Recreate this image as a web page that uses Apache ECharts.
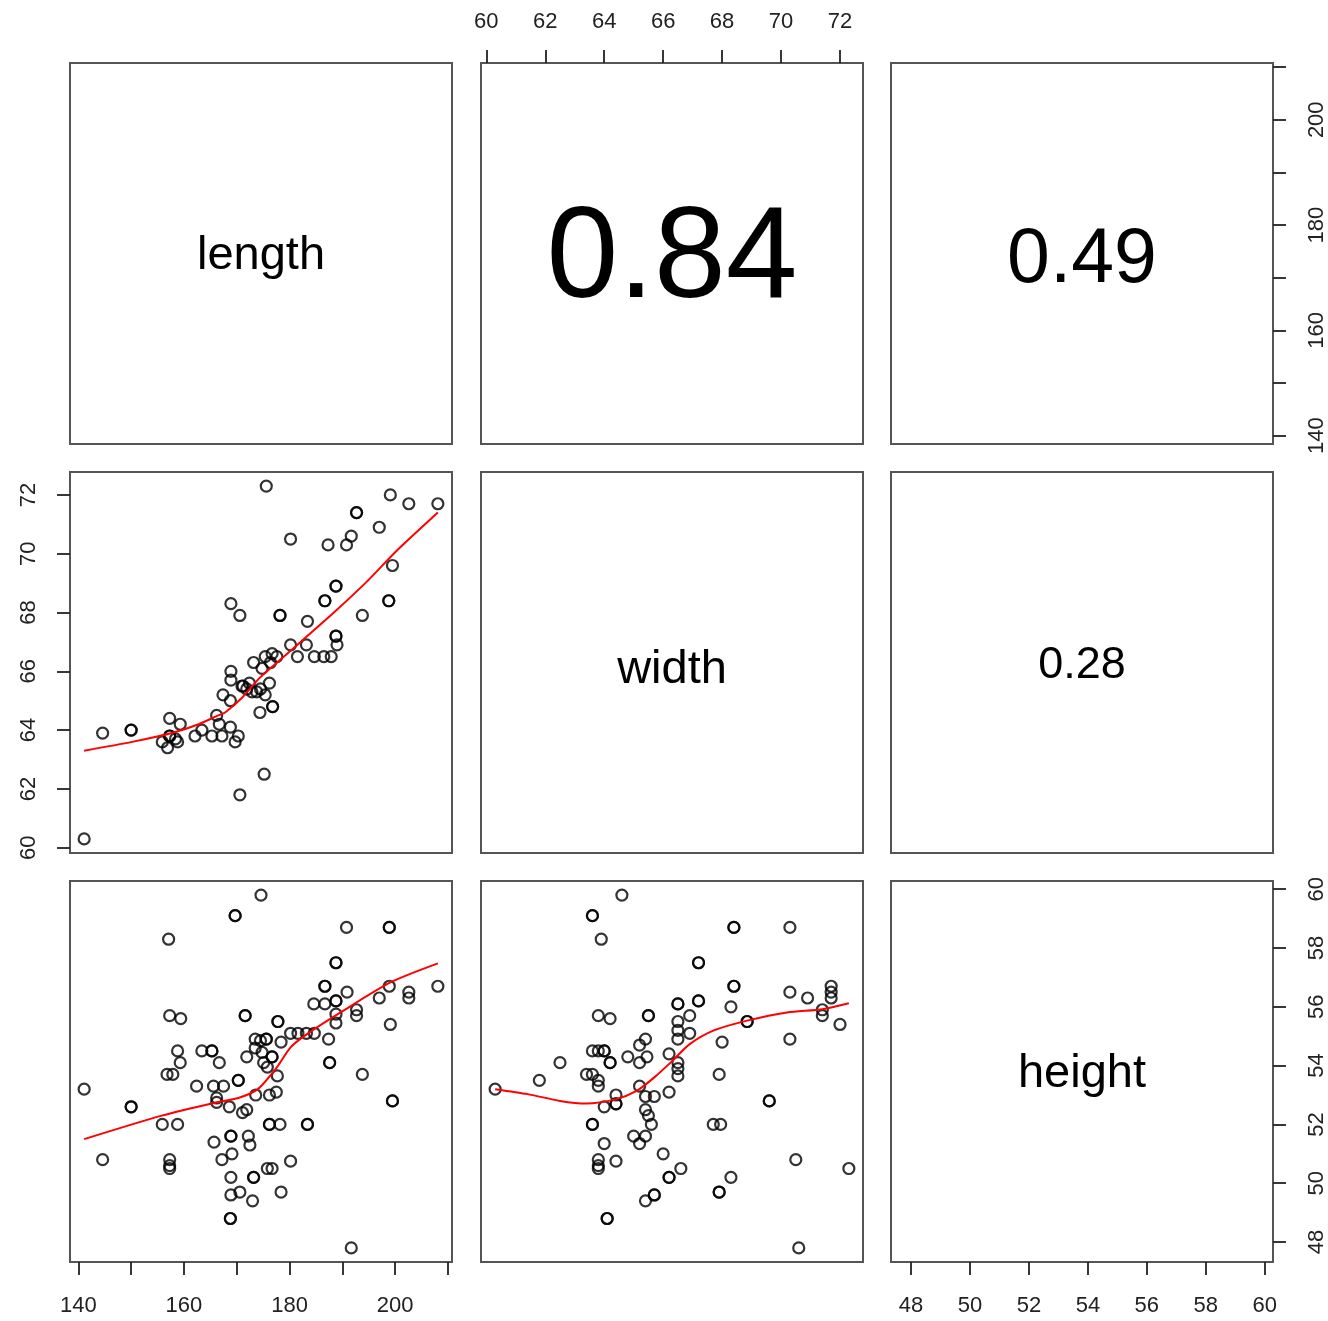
<!DOCTYPE html>
<html>
<head>
<meta charset="utf-8">
<script src="https://cdn.jsdelivr.net/npm/echarts@6/dist/echarts.min.js"></script>
<style>
  html, body { margin: 0; padding: 0; background: #fff; }
  #chart { width: 1328px; height: 1321px; }
</style>
</head>
<body>
<div id="chart"></div>
<script>
// variable names on the diagonal
const varNames = ['length', 'width', 'height']
// correlations for the upper panels: (length,width), (length,height), (width,height)
const corrValues = ['0.84', '0.49', '0.28']

// tick marks and labels for each variable
const tickValues = [
  [140, 150, 160, 170, 180, 190, 200, 210],
  [60, 62, 64, 66, 68, 70, 72],
  [48, 50, 52, 54, 56, 58, 60]
]
const tickLabels = [
  [140, 160, 180, 200],
  [60, 62, 64, 66, 68, 70, 72],
  [48, 50, 52, 54, 56, 58, 60]
]

// length vs width
const lengthWidth = [
  [141.1, 60.3], [144.6, 63.9], [150.0, 64.0], [150.0, 64.0], [157.3, 64.4], [159.3, 64.2],
  [155.9, 63.6], [156.9, 63.4], [157.3, 63.8], [158.8, 63.6], [158.4, 63.7], [157.3, 63.8],
  [162.1, 63.8], [163.4, 64.0], [165.3, 63.8], [166.2, 64.5], [166.7, 64.2], [167.2, 63.8],
  [168.8, 64.1], [169.7, 63.6], [170.3, 63.8], [167.4, 65.2], [168.8, 65.0], [168.9, 66.0],
  [168.9, 65.7], [171.0, 65.5], [171.2, 65.5], [171.9, 65.4], [172.9, 65.3], [168.9, 68.3],
  [170.6, 67.9], [170.6, 61.8], [173.2, 66.3], [174.4, 64.6], [175.2, 62.5], [175.6, 72.3],
  [199.1, 72.0], [202.6, 71.7], [208.1, 71.7], [192.7, 71.4], [192.7, 71.4], [197.0, 70.9],
  [191.7, 70.6], [190.8, 70.3], [187.3, 70.3], [180.2, 70.5], [199.5, 69.6], [188.8, 68.9],
  [188.8, 68.9], [186.7, 68.4], [186.7, 68.4], [198.8, 68.4], [198.8, 68.4], [193.8, 67.9],
  [178.2, 67.9], [178.2, 67.9], [183.4, 67.7], [188.8, 67.2], [188.8, 67.2], [189.0, 66.9],
  [180.2, 66.9], [183.2, 66.9], [181.5, 66.5], [184.7, 66.5], [186.5, 66.5], [187.9, 66.5],
  [175.4, 66.5], [176.7, 66.6], [177.6, 66.5], [174.8, 66.1], [176.4, 66.3], [176.2, 65.6],
  [174.5, 65.4], [175.4, 65.2], [176.8, 64.8], [176.8, 64.8], [172.4, 65.6], [173.8, 65.3]
]

// length vs height
const lengthHeight = [
  [141.1, 53.2], [144.6, 50.8], [150.0, 52.6], [150.0, 52.6], [155.9, 52.0], [158.8, 52.0],
  [157.3, 50.8], [157.3, 50.6], [157.3, 50.5], [157.1, 58.3], [157.3, 55.7], [159.4, 55.6],
  [158.8, 54.5], [159.3, 54.1], [156.8, 53.7], [157.9, 53.7], [162.4, 53.3], [163.4, 54.5],
  [165.3, 54.5], [165.3, 54.5], [166.7, 54.1], [165.6, 53.3], [167.5, 53.3], [166.2, 52.9],
  [166.2, 52.75], [168.6, 52.6], [170.3, 53.5], [170.3, 53.5], [171.9, 54.3], [171.9, 52.5],
  [171.1, 52.4], [169.7, 59.1], [169.7, 59.1], [171.6, 55.7], [171.6, 55.7], [173.5, 54.9],
  [173.5, 54.6], [173.6, 53.0], [174.6, 59.8], [165.7, 51.4], [167.2, 50.8], [169.1, 51.0],
  [168.9, 51.6], [168.9, 51.6], [172.2, 51.6], [172.5, 51.3], [168.9, 50.2], [168.9, 49.6],
  [170.6, 49.7], [173.2, 50.2], [173.2, 50.2], [173.0, 49.4], [168.8, 48.8], [168.8, 48.8],
  [190.8, 58.7], [198.9, 58.7], [198.9, 58.7], [188.8, 57.5], [188.8, 57.5], [186.7, 56.7],
  [186.7, 56.7], [190.9, 56.5], [198.9, 56.7], [202.6, 56.5], [202.6, 56.3], [208.1, 56.7],
  [197.0, 56.3], [188.8, 56.2], [188.8, 56.2], [184.6, 56.1], [186.7, 56.1], [192.7, 55.9],
  [192.7, 55.7], [188.8, 55.75], [188.8, 55.45], [199.1, 55.4], [177.8, 55.5], [177.8, 55.5],
  [180.2, 55.1], [181.6, 55.1], [183.2, 55.1], [184.7, 55.1], [175.6, 54.9], [175.6, 54.9],
  [178.4, 54.8], [187.4, 54.9], [174.5, 54.85], [174.8, 54.45], [176.7, 54.3], [176.7, 54.3],
  [175.1, 54.1], [175.8, 53.95], [177.7, 53.65], [187.6, 54.1], [187.6, 54.1], [193.8, 53.7],
  [199.5, 52.8], [199.5, 52.8], [176.2, 53.0], [177.5, 53.1], [176.2, 52.0], [176.2, 52.0],
  [178.2, 52.0], [183.4, 52.0], [183.4, 52.0], [180.2, 50.75], [175.8, 50.5], [176.7, 50.5],
  [178.4, 49.7], [191.7, 47.8]
]

// width vs height
const widthHeight = [
  [60.3, 53.2], [61.8, 53.5], [62.5, 54.1], [64.6, 59.8], [63.6, 59.1], [63.6, 59.1],
  [63.9, 58.3], [63.8, 55.7], [64.2, 55.6], [65.5, 55.7], [65.5, 55.7], [63.6, 54.5],
  [63.8, 54.5], [64.0, 54.5], [64.0, 54.5], [64.2, 54.1], [64.2, 54.1], [64.8, 54.3],
  [65.2, 54.7], [65.4, 54.9], [65.2, 54.1], [65.45, 54.3], [63.4, 53.7], [63.6, 53.7],
  [63.8, 53.5], [63.8, 53.3], [64.4, 53.0], [64.4, 52.7], [64.4, 52.7], [64.0, 52.6],
  [65.2, 53.3], [65.4, 52.95], [65.7, 52.95], [65.4, 52.5], [65.5, 52.3], [65.6, 52.0],
  [63.6, 52.0], [63.6, 52.0], [65.0, 51.6], [65.4, 51.6], [65.2, 51.35], [64.0, 51.35],
  [63.8, 50.8], [63.8, 50.6], [63.8, 50.5], [64.4, 50.75], [66.0, 51.0], [66.2, 50.2],
  [66.2, 50.2], [65.4, 49.4], [65.7, 49.6], [65.7, 49.6], [64.1, 48.8], [64.1, 48.8],
  [66.2, 53.1], [68.4, 58.7], [68.4, 58.7], [70.3, 58.7], [67.2, 57.5], [67.2, 57.5],
  [68.4, 56.7], [68.4, 56.7], [71.7, 56.7], [71.7, 56.5], [71.7, 56.3], [70.3, 56.5],
  [70.9, 56.3], [66.5, 56.1], [66.5, 56.1], [67.2, 56.2], [67.2, 56.2], [68.3, 56.0],
  [66.9, 55.7], [66.5, 55.5], [66.5, 55.2], [66.5, 54.9], [66.9, 55.1], [68.85, 55.5],
  [68.85, 55.5], [71.4, 55.9], [71.4, 55.7], [72.0, 55.4], [68.0, 54.8], [70.3, 54.9],
  [66.2, 54.4], [66.5, 54.1], [66.5, 53.9], [66.5, 53.65], [67.9, 53.7], [69.6, 52.8],
  [69.6, 52.8], [67.7, 52.0], [67.95, 52.0], [66.6, 50.5], [68.3, 50.2], [67.9, 49.7],
  [67.9, 49.7], [70.5, 50.8], [72.3, 50.5], [70.6, 47.8]
]

// smoother curves
const smoothLW = [
  [141.1, 63.3], [150.2, 63.6], [157.7, 63.9], [162.8, 64.2], [166.5, 64.5], [167.8, 64.6],
  [171.0, 65.1], [174.2, 65.75], [177.0, 66.2], [182.1, 67.0], [188.4, 68.0], [194.7, 69.06],
  [200.3, 70.1], [208.1, 71.4]
]
const smoothLH = [
  [141.1, 51.5], [155.8, 52.3], [165.9, 52.74], [170.3, 52.9], [174.0, 53.2], [177.6, 53.94],
  [180.2, 54.62], [183.3, 55.07], [189.6, 55.8], [199.1, 56.83], [208.1, 57.48]
]
const smoothWH = [
  [60.3, 53.2], [61.4, 53.03], [62.5, 52.8], [63.4, 52.71], [64.4, 52.86], [65.1, 53.14],
  [65.7, 53.6], [66.3, 54.15], [66.9, 54.73], [67.7, 55.19], [68.85, 55.53], [70.2, 55.81],
  [71.4, 55.92], [72.3, 56.12]
]

// layout
const axisRanges = [[138.42, 210.78], [59.82, 72.78], [47.32, 60.28]]
const lefts = [70, 481, 891]
const tops = [63, 472, 881]
const panelW = 382
const panelH = 381
const font = 'Liberation Sans, Arial, sans-serif'
const nameShift = [3, 8, 3]
const corrSizes = [129, 77, 45]
const corrShift = [8, 7, 3]

let grids = []
let xAxes = []
let yAxes = []
for (let i = 0; i < 9; i++) {
  let r = Math.floor(i / 3)
  let c = i % 3
  grids.push({
    left: lefts[c], top: tops[r], width: panelW, height: panelH,
    show: true, borderColor: '#555', borderWidth: 2, backgroundColor: 'transparent'
  })
  let showX = (c === 1 && r === 0) || (c !== 1 && r === 2)
  let showY = (r === 1 && c === 0) || (r !== 1 && c === 2)
  xAxes.push({
    type: 'value', gridIndex: i,
    min: axisRanges[c][0], max: axisRanges[c][1],
    position: c === 1 ? 'top' : 'bottom',
    axisLine: { show: false },
    axisTick: { show: showX, length: 13, lineStyle: { color: '#222', width: 1.8 }, customValues: tickValues[c] },
    axisLabel: {
      show: showX, customValues: tickLabels[c], fontSize: 22, color: '#222',
      fontFamily: font, margin: c === 1 ? 30 : 33
    },
    splitLine: { show: false }
  })
  yAxes.push({
    type: 'value', gridIndex: i,
    min: axisRanges[r][0], max: axisRanges[r][1],
    position: r === 1 ? 'left' : 'right',
    axisLine: { show: false },
    axisTick: { show: showY, length: 13, lineStyle: { color: '#222', width: 1.8 }, customValues: tickValues[r] },
    axisLabel: {
      show: showY, customValues: tickLabels[r], fontSize: 22, color: '#222',
      fontFamily: font, rotate: 90, margin: r === 1 ? 30 : 33
    },
    splitLine: { show: false }
  })
}

function scatterSeries (idx, data) {
  return {
    type: 'scatter', xAxisIndex: idx, yAxisIndex: idx, data: data,
    symbol: 'circle', symbolSize: 11,
    itemStyle: { color: 'rgba(0,0,0,0)', borderColor: '#000', borderWidth: 2.2 },
    emphasis: { disabled: true }, silent: true
  }
}
function lineSeries (idx, data) {
  return {
    type: 'line', xAxisIndex: idx, yAxisIndex: idx, data: data,
    showSymbol: false, smooth: 0.25,
    lineStyle: { color: '#ff0000', width: 2 }, silent: true
  }
}

// panel texts
let texts = []
for (let k = 0; k < 3; k++) {
  texts.push({
    type: 'text', x: lefts[k] + panelW / 2, y: tops[k] + panelH / 2 + nameShift[k],
    style: { text: varNames[k], fontSize: 47, fontFamily: font, fill: '#000', align: 'center', verticalAlign: 'middle' }
  })
}
const corrCells = [[0, 1], [0, 2], [1, 2]]
corrCells.forEach((cell, k) => {
  texts.push({
    type: 'text', x: lefts[cell[1]] + panelW / 2, y: tops[cell[0]] + panelH / 2 + corrShift[k],
    style: { text: corrValues[k], fontSize: corrSizes[k], fontFamily: font, fill: '#000', align: 'center', verticalAlign: 'middle' }
  })
})

let chart = echarts.init(document.getElementById('chart'))
chart.setOption({
  animation: false,
  backgroundColor: '#fff',
  grid: grids,
  xAxis: xAxes,
  yAxis: yAxes,
  graphic: texts,
  series: [
    scatterSeries(3, lengthWidth),
    lineSeries(3, smoothLW),
    scatterSeries(6, lengthHeight),
    lineSeries(6, smoothLH),
    scatterSeries(7, widthHeight),
    lineSeries(7, smoothWH)
  ]
})
</script>
</body>
</html>
